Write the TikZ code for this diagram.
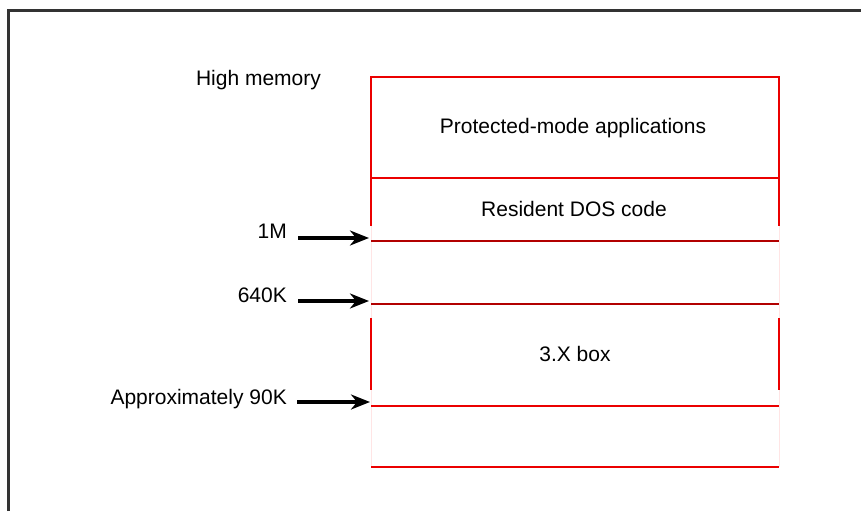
\documentclass[tikz,border=0pt]{standalone}
\usepackage{fontspec}
\setmainfont{Liberation Sans}
\usetikzlibrary{arrows.meta}
\begin{document}
\begin{tikzpicture}[x=1pt,y=-1pt,
  lbl/.style={font=\fontsize{21}{25}\selectfont, inner sep=0pt},
  redln/.style={draw=red!92!black, line width=2pt, line join=miter},
  darkln/.style={draw=red!70!black, line width=2.2pt},
  faint/.style={draw=red!10, line width=1pt},
  arr/.style={draw=black, line width=3.4pt, -{Stealth[length=19pt,width=15pt,inset=6pt]}},
  frameln/.style={draw=black!80, line width=2.5pt}]
\useasboundingbox (0,0) rectangle (861,511);
% frame
\draw[frameln] (8.5,511) -- (8.5,10.5) -- (861,10.5);
% memory map
\draw[faint] (371,226) -- (371,318) (371,390) -- (371,467);
\draw[faint] (779,226) -- (779,318) (779,390) -- (779,467);
\draw[redln] (371,226) -- (371,77) -- (779,77) -- (779,226);
\draw[redln] (371,178) -- (779,178);
\draw[darkln] (371,241) -- (779,241);
\draw[darkln] (371,304) -- (779,304);
\draw[redln] (371,318) -- (371,390);
\draw[redln] (779,318) -- (779,390);
\draw[redln] (371,406) -- (779,406);
\draw[redln] (371,467) -- (779,467);
% region labels
\node[lbl, anchor=base] (prot) at (573,133) {Protected-mode applications};
\node[lbl, anchor=base] (dos) at (574,216) {Resident DOS code};
\node[lbl, anchor=base] (box) at (575,361) {3.X box};
% side labels
\node[lbl, anchor=base] (high) at (258.5,85) {High memory};
\node[lbl, anchor=base east] (l1) at (287,238) {1M};
\node[lbl, anchor=base east] (l2) at (287,302) {640K};
\node[lbl, anchor=base east] (l3) at (287,404) {Approximately 90K};
% arrows
\coordinate (a1) at (298,238); \coordinate (b1) at (369,238);
\coordinate (a2) at (298,301); \coordinate (b2) at (369,301);
\coordinate (a3) at (297,402); \coordinate (b3) at (370,402);
\draw[arr] (a1) -- (b1);
\draw[arr] (a2) -- (b2);
\draw[arr] (a3) -- (b3);
\end{tikzpicture}
\end{document}
